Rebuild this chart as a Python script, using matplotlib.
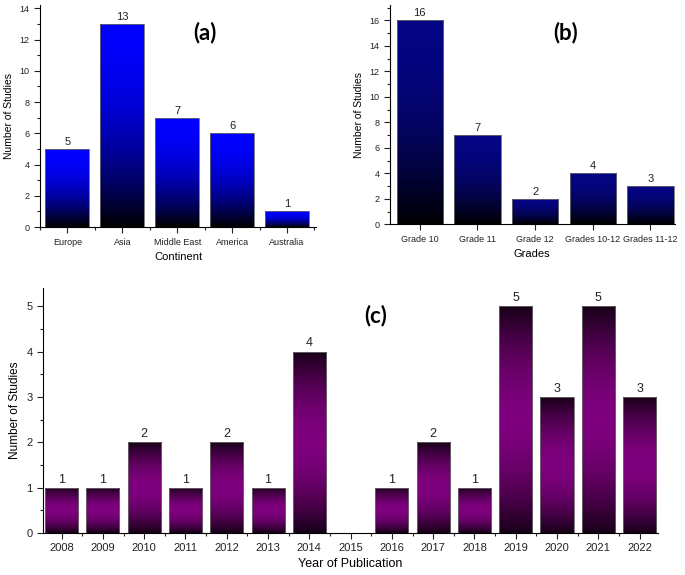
import numpy as np
import matplotlib
matplotlib.use("Agg")
import matplotlib.pyplot as plt
from matplotlib.ticker import MultipleLocator

plt.rcParams['font.family'] = ['Liberation Sans', 'DejaVu Sans']

# (a) continents
continents = ["Europe", "Asia", "Middle East", "America", "Australia"]
continent_counts = [5, 13, 7, 6, 1]

# (b) grades
grades = ["Grade 10", "Grade 11", "Grade 12", "Grades 10-12", "Grades 11-12"]
grade_counts = [16, 7, 2, 4, 3]

# (c) year of publication
years = [2008, 2009, 2010, 2011, 2012, 2013, 2014, 2015,
         2016, 2017, 2018, 2019, 2020, 2021, 2022]
year_counts = [1, 1, 2, 1, 2, 1, 4, 0, 1, 2, 1, 5, 3, 5, 3]


def grad_blue(top):
    t = np.linspace(0, 1, 256)
    g = 1 - (1 - t) ** 2
    img = np.zeros((256, 1, 3))
    for i in range(3):
        img[:, 0, i] = top[i] * g
    return img


def grad_purple():
    t = np.linspace(0, 1, 256)
    g = 0.18 + 0.82 * (1 - np.abs(2 * t - 1) ** 1.8)
    img = np.zeros((256, 1, 3))
    img[:, 0, 0] = 0.5 * g
    img[:, 0, 2] = 0.5 * g
    return img


def gradient_bars(ax, x, h, img, width=0.8, fs=8):
    bars = ax.bar(x, h, width=width, facecolor='none', edgecolor='#6a6a6a',
                  linewidth=0.6, zorder=3)
    for b in bars:
        if b.get_height() <= 0:
            continue
        x0 = b.get_x()
        im = ax.imshow(img, extent=(x0, x0 + b.get_width(), 0, b.get_height()),
                       origin='lower', aspect='auto', zorder=2, interpolation='nearest')
        im.set_clip_path(b)
        ax.annotate(f"{b.get_height():g}", (x0 + b.get_width() / 2, b.get_height()),
                    xytext=(0, 1.5), textcoords='offset points', ha='center',
                    va='bottom', fontsize=fs, color='#222222')
    return bars


def style(ax):
    ax.spines['top'].set_visible(False)
    ax.spines['right'].set_visible(False)
    ax.tick_params(which='major', length=4, width=0.8, direction='out', colors='#222222')
    ax.tick_params(which='minor', length=2, width=0.8, direction='out', colors='#222222')


fig = plt.figure(figsize=(6.85, 5.75), dpi=100)

# panel (a)
ax1 = fig.add_axes([0.0584, 0.605, 0.403, 0.386])
xa = np.arange(1, len(continents) + 1)
gradient_bars(ax1, xa, continent_counts, grad_blue((0, 0, 1)), fs=8)
ax1.set_xlim(0.5, 5.53)
ax1.set_ylim(0, 14.2)
ax1.set_xticks(xa)
ax1.set_xticklabels(continents, fontsize=6.5)
ax1.xaxis.set_minor_locator(MultipleLocator(0.5))
ax1.yaxis.set_major_locator(MultipleLocator(2))
ax1.yaxis.set_minor_locator(MultipleLocator(1))
ax1.tick_params(axis='y', labelsize=6.5)
ax1.set_xlabel("Continent", fontsize=8, labelpad=4)
ax1.set_ylabel("Number of Studies", fontsize=7.5)
style(ax1)

# panel (b)
ax2 = fig.add_axes([0.569, 0.610, 0.416, 0.381])
xb = np.arange(1, len(grades) + 1)
gradient_bars(ax2, xb, grade_counts, grad_blue((0.02, 0.02, 0.52)), fs=8)
ax2.set_xlim(0.48, 5.42)
ax2.set_ylim(0, 17.2)
ax2.set_xticks(xb)
ax2.set_xticklabels(grades, fontsize=6.5)
ax2.yaxis.set_major_locator(MultipleLocator(2))
ax2.yaxis.set_minor_locator(MultipleLocator(1))
ax2.tick_params(axis='y', labelsize=6.5)
ax2.set_xlabel("Grades", fontsize=8, labelpad=4)
ax2.set_ylabel("Number of Studies", fontsize=7.5)
style(ax2)

# panel (c)
ax3 = fig.add_axes([0.0628, 0.073, 0.898, 0.426])
gradient_bars(ax3, years, year_counts, grad_purple(), fs=9)
ax3.set_xlim(2007.55, 2022.45)
ax3.set_ylim(0, 5.4)
ax3.set_xticks(years)
ax3.set_xticklabels([str(y) for y in years], fontsize=8)
ax3.xaxis.set_minor_locator(MultipleLocator(0.5))
ax3.yaxis.set_major_locator(MultipleLocator(1))
ax3.yaxis.set_minor_locator(MultipleLocator(0.5))
ax3.tick_params(axis='y', labelsize=8)
ax3.set_xlabel("Year of Publication", fontsize=9, labelpad=3)
ax3.set_ylabel("Number of Studies", fontsize=8.5)
style(ax3)

# panel labels
for lbl, px, py in [("(a)", 0.299, 0.944), ("(b)", 0.826, 0.943), ("(c)", 0.549, 0.452)]:
    fig.text(px, py, lbl, fontsize=16, fontweight='bold', family='Lato',
             ha='center', va='center')

fig.savefig("out.png", dpi=100)
